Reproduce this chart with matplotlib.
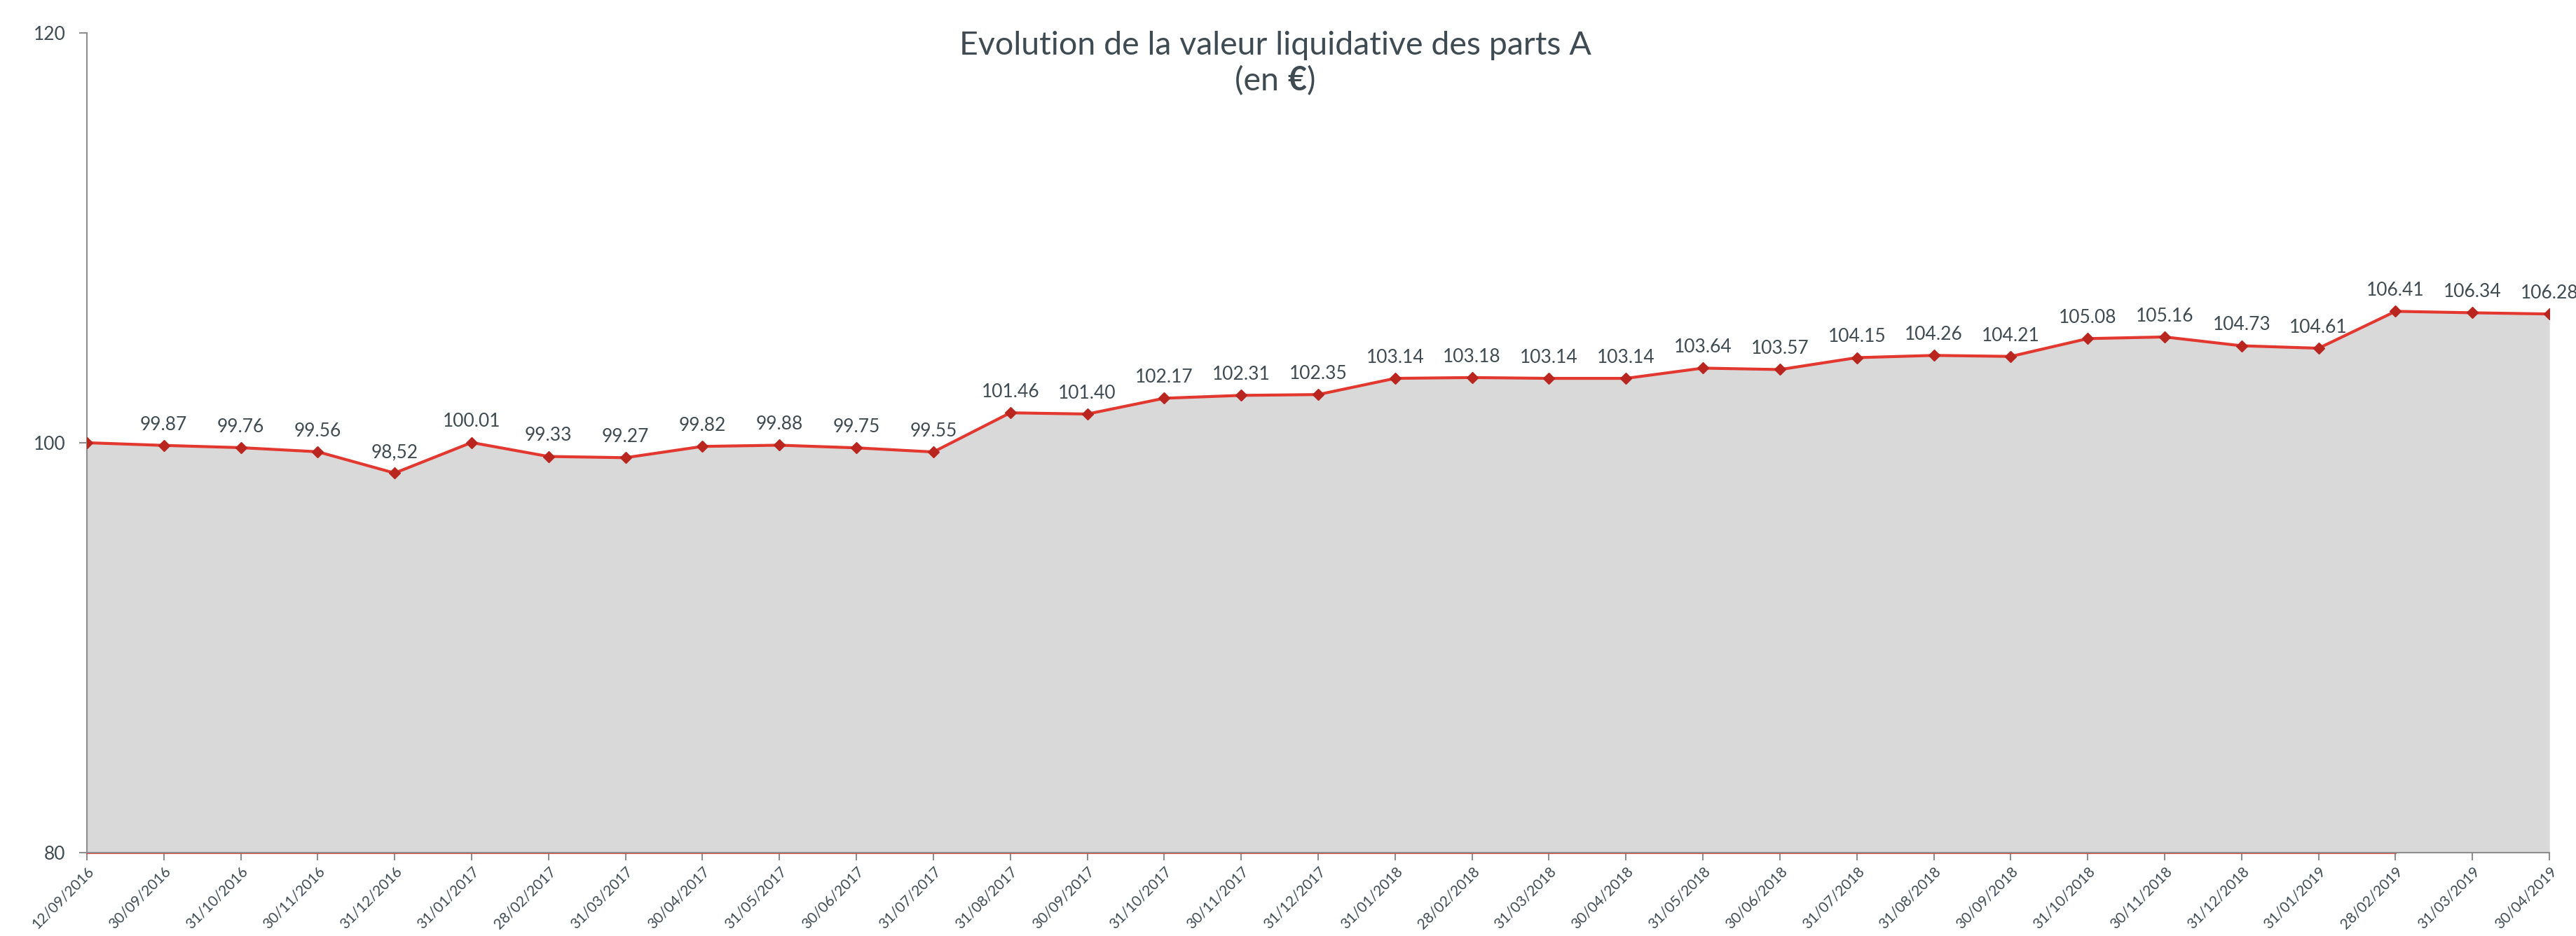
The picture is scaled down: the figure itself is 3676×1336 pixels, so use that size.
import numpy as np
import matplotlib
matplotlib.use("Agg")
import matplotlib.pyplot as plt
from matplotlib.offsetbox import TextArea, HPacker, AnchoredOffsetbox

dates = ["12/09/2016", "30/09/2016", "31/10/2016", "30/11/2016", "31/12/2016",
         "31/01/2017", "28/02/2017", "31/03/2017", "30/04/2017", "31/05/2017",
         "30/06/2017", "31/07/2017", "31/08/2017", "30/09/2017", "31/10/2017",
         "30/11/2017", "31/12/2017", "31/01/2018", "28/02/2018", "31/03/2018",
         "30/04/2018", "31/05/2018", "30/06/2018", "31/07/2018", "31/08/2018",
         "30/09/2018", "31/10/2018", "30/11/2018", "31/12/2018", "31/01/2019",
         "28/02/2019", "31/03/2019", "30/04/2019"]
values = [100.00, 99.87, 99.76, 99.56, 98.52, 100.01, 99.33, 99.27, 99.82, 99.88,
          99.75, 99.55, 101.46, 101.40, 102.17, 102.31, 102.35, 103.14, 103.18, 103.14,
          103.14, 103.64, 103.57, 104.15, 104.26, 104.21, 105.08, 105.16, 104.73, 104.61,
          106.41, 106.34, 106.28]
# label text as printed on the chart (first point has none)
labels = [""] + ["%.2f" % v for v in values[1:]]
labels[4] = "98,52"

text_col = "#3f4b52"
line_col = "#e2382f"
marker_col = "#b8261f"
fill_col = "#d9d9d9"
axis_col = "#8e8e8e"

fig = plt.figure(figsize=(36.76, 13.36), dpi=100)
ax = fig.add_axes([0.0337, 0.089, 0.9560, 0.876])

x = np.arange(len(values))
ax.fill_between(x, 80, values, color=fill_col, lw=0, zorder=1)
ax.plot(x, values, color=line_col, lw=3, zorder=3,
        marker="D", ms=8, mfc=marker_col, mec=marker_col)
ax.plot(x[:31], [80] * 31, color=line_col, lw=2, zorder=2, clip_on=False)

for xi, v, lab in zip(x, values, labels):
    if lab:
        ax.annotate(lab, (xi, v), xytext=(0, 16), textcoords="offset points",
                    ha="center", va="baseline", fontsize=19, color=text_col,
                    family="Lato")

ax.set_xlim(0, len(values) - 1)
ax.set_ylim(80, 120)
ax.set_yticks([80, 100, 120])
ax.set_xticks(x)
ax.set_xticklabels(dates, rotation=45, ha="right", rotation_mode="anchor",
                   fontsize=15, color=text_col, family="Lato")
for t in ax.get_yticklabels():
    t.set_fontsize(19)
    t.set_color(text_col)
    t.set_family("Lato")
ax.tick_params(axis="both", color=axis_col, width=1.5, length=8)
ax.tick_params(axis="y", pad=14)
ax.tick_params(axis="x", pad=4)

for s in ["top", "right"]:
    ax.spines[s].set_visible(False)
for s in ["left", "bottom"]:
    ax.spines[s].set_color(axis_col)
    ax.spines[s].set_linewidth(1.5)

title_font = dict(fontsize=33.5, color=text_col, family="Lato")
fig.text(0.495, 0.951, "Evolution de la valeur liquidative des parts A",
         ha="center", va="center", **title_font)
line2 = HPacker(children=[
    TextArea("(en ", textprops=title_font),
    TextArea("€", textprops=dict(title_font, weight="bold")),
    TextArea(")", textprops=title_font),
], align="baseline", pad=0, sep=0)
box = AnchoredOffsetbox(loc="center", child=line2, frameon=False, pad=0,
                        bbox_to_anchor=(0.495, 0.914), bbox_transform=fig.transFigure)
fig.add_artist(box)

fig.savefig("out.png", dpi=100)
